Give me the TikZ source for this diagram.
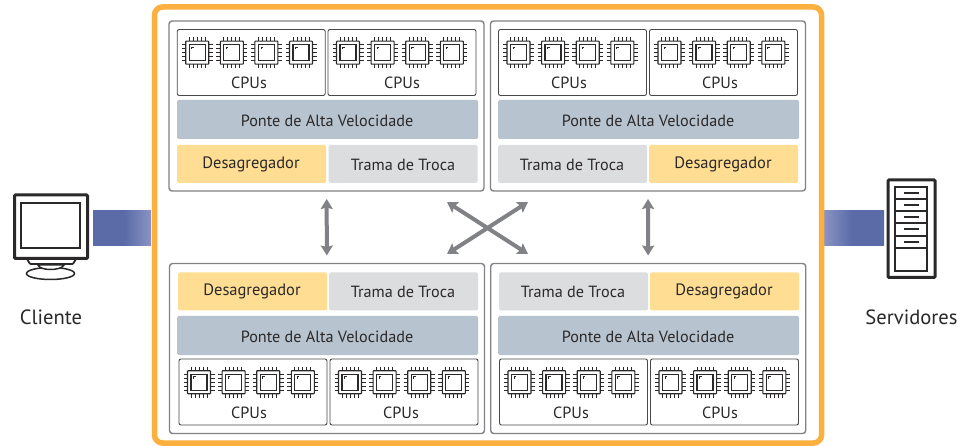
\documentclass[tikz,border=0pt]{standalone}
\usepackage{fontspec}
\setmainfont{PT Sans}
\definecolor{orangeframe}{HTML}{FBB040}
\definecolor{panelline}{HTML}{808285}
\definecolor{ink}{HTML}{2B2829}
\definecolor{bridgefill}{HTML}{B7C3CE}
\definecolor{desagfill}{HTML}{FFDE93}
\definecolor{tramafill}{HTML}{DCDDDE}
\definecolor{linkdark}{HTML}{5B6BA8}
\definecolor{linklight}{HTML}{8A94C4}
\usetikzlibrary{arrows.meta}
\pgfdeclarehorizontalshading{linkleft}{100bp}{color(0bp)=(linkdark); color(52bp)=(linkdark); color(75bp)=(linklight); color(100bp)=(linklight)}
\pgfdeclarehorizontalshading{linkright}{100bp}{color(0bp)=(linklight); color(25bp)=(linklight); color(48bp)=(linkdark); color(100bp)=(linkdark)}
\tikzset{
  x=1pt,y=-1pt,
  every node/.style={inner sep=0pt,outer sep=0pt,text=ink,font=\fontsize{16.2}{18}\selectfont},
  frameb/.style={draw=orangeframe,line width=5.5pt,rounded corners=8pt,anchor=north west,minimum width=667pt,minimum height=436pt},
  panelb/.style={draw=panelline,line width=1.4pt,rounded corners=3pt,anchor=north west,minimum width=315pt,minimum height=170pt},
  cpub/.style={draw=ink!85,line width=.9pt,rounded corners=2pt,anchor=north west,minimum width=148pt,minimum height=66pt},
  bridgeb/.style={fill=bridgefill,rounded corners=1.5pt,anchor=north west,minimum width=301pt,minimum height=39pt},
  desagb/.style={fill=desagfill,rounded corners=1.5pt,anchor=north west,minimum width=149pt,minimum height=38pt},
  tramab/.style={fill=tramafill,rounded corners=1.5pt,anchor=north west,minimum width=149pt,minimum height=38pt},
  lbl/.style={anchor=base},
  link/.style={draw=panelline,line width=4pt,{Stealth[length=10pt,width=12pt,inset=1.5pt]}-{Stealth[length=10pt,width=12pt,inset=1.5pt]}},
  chip/.pic={
    \draw[ink,line width=1.1pt,rounded corners=.6pt] (-11.5,-11.5) rectangle (11.5,11.5);
    \draw[ink,line width=1.3pt] (-8,-8) rectangle (8,8);
    \draw[ink,line width=.7pt] (-5.5,-3.5) -- (-5.5,-5.5) -- (-3.5,-5.5);
    \foreach \p in {-8,-4,0,4,8}{
      \draw[ink,line width=.85pt] (\p,-15.5) -- (\p,-11.5) (\p,11.5) -- (\p,15.5)
        (-15.5,\p) -- (-11.5,\p) (11.5,\p) -- (15.5,\p);
    }
  }
}
\newcommand{\cpuunit}[4]{%
  \node[cpub] (cpu#1) at (#2,#3) {};
  \foreach \o in {20,54.6,89.2,123.8}{\pic at (#2+\o,#3+23.2) {chip};}
  \node[lbl] (cputext#1) at (#4,#3+59.5) {CPUs};
}
\begin{document}
\begin{tikzpicture}
\useasboundingbox (0,0) rectangle (972,446);
\fill[white] (0,0) rectangle (972,446);
% links to client and servers
\shade[shading=linkleft] (93,211) rectangle (151,245.7);
\shade[shading=linkright] (824,211) rectangle (884,245.7);
\node[frameb] (frame) at (154.5,7) {};
% panels
\node[panelb] (tl) at (169,21) {};
\node[panelb] (tr) at (490.5,21) {};
\node[panelb] (bl) at (169.5,263.5) {};
\node[panelb] (br) at (490.7,263.5) {};
% top left
\cpuunit{a}{177.2}{29.5}{249}
\cpuunit{b}{328}{29.5}{402}
\node[bridgeb] (ap) at (177,100) {}; \node[lbl] at (327,127) {Ponte de Alta Velocidade};
\node[desagb] (ad) at (177,145) {}; \node[lbl] at (251,169) {\fontsize{16.5}{18}\selectfont Desagregador};
\node[tramab] (at) at (328.5,145) {}; \node[lbl] at (403,171) {Trama de Troca};
% top right
\cpuunit{c}{498.5}{29.5}{569}
\cpuunit{d}{649.5}{29.5}{720}
\node[bridgeb] (bp) at (498,100) {}; \node[lbl] at (648,127) {Ponte de Alta Velocidade};
\node[tramab] (bt) at (498,145) {}; \node[lbl] at (572,171) {Trama de Troca};
\node[desagb] (bd) at (649,145) {}; \node[lbl] at (723,169) {\fontsize{16.5}{18}\selectfont Desagregador};
% bottom left
\node[desagb] (cd) at (178,272.5) {}; \node[lbl] at (252,296) {\fontsize{16.5}{18}\selectfont Desagregador};
\node[tramab] (ct) at (329,272.5) {}; \node[lbl] at (403,298) {Trama de Troca};
\node[bridgeb] (cp) at (177,316) {}; \node[lbl] at (327,342) {Ponte de Alta Velocidade};
\cpuunit{e}{179}{359}{249}
\cpuunit{f}{330}{359}{401}
% bottom right
\node[tramab] (dt) at (499,272.5) {}; \node[lbl] at (573,298) {Trama de Troca};
\node[desagb] (dd) at (650,272.5) {}; \node[lbl] at (724,296) {\fontsize{16.5}{18}\selectfont Desagregador};
\node[bridgeb] (dp) at (498,316) {}; \node[lbl] at (648,342) {Ponte de Alta Velocidade};
\cpuunit{g}{499.5}{359}{571}
\cpuunit{h}{650.5}{359}{720}
% arrows
\draw[link,shorten >=8pt,shorten <=8pt] (tl) -- (bl);
\draw[link,shorten >=8pt,shorten <=8pt] (tr) -- (br);
\coordinate (x1) at (447,202); \coordinate (x2) at (528,254);
\coordinate (x3) at (528,202); \coordinate (x4) at (447,254);
\draw[link] (x1) -- (x2);
\draw[link] (x3) -- (x4);
% client
\draw[ink,line width=1.8pt,rounded corners=.8pt,fill=white] (27,259) -- (30,264) -- (73,264) -- (76,259);
\draw[ink,line width=1.5pt,fill=white] (50.5,273.5) ellipse (24 and 6);
\draw[ink,line width=1.5pt,fill=white] (38,265) .. controls (40,271) and (61,271) .. (64,265) -- cycle;
\draw[ink,line width=3pt,rounded corners=1pt,fill=white] (14.5,195) rectangle (87.5,258.5);
\draw[ink,line width=1.3pt] (21,203) rectangle (80,248);
\node[lbl] (client) at (51,325) {\fontsize{20.6}{22}\selectfont Cliente};
% servers
\draw[ink,line width=3pt,rounded corners=1pt,fill=white] (888,180) rectangle (935,277.5);
\draw[ink,line width=1.3pt] (895,187) rectangle (927,271);
\foreach \y in {199,211,223,236,248}{\draw[ink,line width=1.2pt] (895,\y) -- (927,\y);}
\foreach \y in {193,205,217,229,242}{\draw[ink,line width=1.1pt] (904,\y) -- (919,\y);}
\node[lbl] (servers) at (911.5,325) {\fontsize{20.6}{22}\selectfont Servidores};
\end{tikzpicture}
\end{document}
